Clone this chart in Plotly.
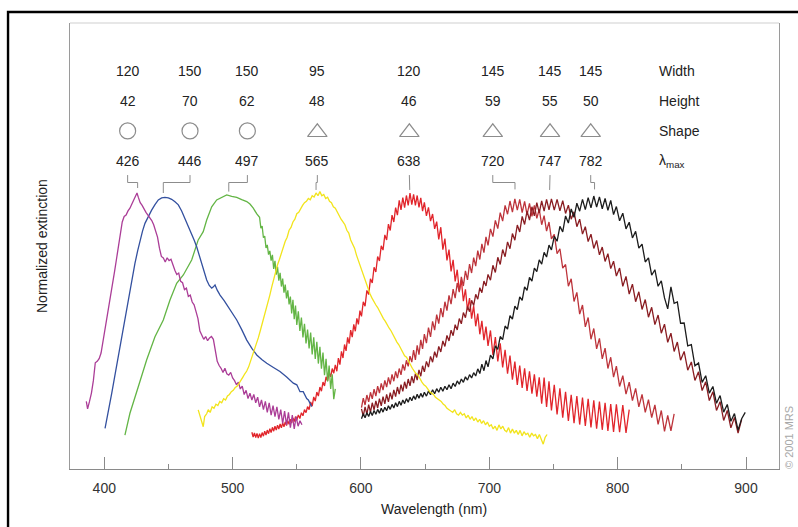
import plotly.graph_objects as go

# ---------------- data ----------------
lambda_max = [426, 446, 497, 565, 638, 720, 747, 782]
widths = [120, 150, 150, 95, 120, 145, 145, 145]
heights = [42, 70, 62, 48, 46, 59, 55, 50]
shape_kind = ["circle", "circle", "circle", "triangle", "triangle", "triangle", "triangle", "triangle"]
label_x = [418.2, 466.8, 511.5, 566.0, 637.7, 702.7, 747.3, 779.0]
leader_end = [1.018, 1.0, 1.005, 1.011, 1.011, 1.013, 1.011, 1.013]
row_names = ["Width", "Height", "Shape", "λ<sub>max</sub>"]

# magenta (426 nm)
wl_426 = [386.0, 387.0, 388.5, 390.0, 391.5, 393.0, 394.5, 396.0, 397.5, 399.0, 400.5, 402.0, 403.5, 405.0,
          406.5, 408.0, 409.5, 411.0, 412.5, 414.0, 415.5, 417.0, 418.5, 420.0, 421.5, 423.0, 424.5, 425.5,
          426.5, 428.0, 429.5, 431.0, 432.5, 434.0, 435.5, 437.0, 438.5, 440.0, 441.5, 443.0, 444.5, 446.0,
          447.5, 449.0, 450.5, 452.0, 453.5, 455.0, 456.5, 458.0, 459.5, 461.0, 462.5, 464.0, 465.5, 467.0,
          468.5, 470.0, 471.5, 473.0, 474.5, 476.0, 477.5, 479.0, 480.5, 482.0, 483.5, 485.0, 486.5, 488.0,
          489.5, 491.0, 492.5, 494.0, 495.5, 497.0, 498.5, 500.0, 501.5, 503.0, 504.5, 506.0, 507.5, 509.0,
          510.5, 512.0, 513.5, 515.0, 516.5, 518.0, 519.5, 521.0, 522.5, 524.0, 525.5, 527.0, 528.5, 530.0,
          531.5, 533.0, 534.5, 536.0, 537.5, 539.0, 540.5, 542.0, 543.5, 545.0, 546.5, 548.0, 549.5, 551.0,
          552.5, 554.0]
ext_426 = [0.245, 0.218, 0.245, 0.275, 0.32, 0.385, 0.39, 0.40, 0.42, 0.46, 0.515, 0.55, 0.59, 0.63,
           0.665, 0.715, 0.76, 0.81, 0.85, 0.895, 0.915, 0.92, 0.935, 0.945, 0.96, 0.975, 0.99, 1.0,
           0.985, 0.965, 0.955, 0.94, 0.93, 0.92, 0.91, 0.90, 0.885, 0.86, 0.84, 0.80, 0.77, 0.765,
           0.75, 0.765, 0.755, 0.76, 0.735, 0.72, 0.705, 0.71, 0.68, 0.675, 0.65, 0.655, 0.625, 0.63,
           0.605, 0.595, 0.57, 0.545, 0.50, 0.485, 0.47, 0.48, 0.465, 0.475, 0.48, 0.47, 0.43, 0.39,
           0.375, 0.365, 0.35, 0.365, 0.345, 0.34, 0.35, 0.33, 0.32, 0.305, 0.315, 0.29, 0.30, 0.27,
           0.285, 0.255, 0.275, 0.25, 0.27, 0.24, 0.26, 0.225, 0.25, 0.215, 0.245, 0.205, 0.24, 0.195,
           0.23, 0.19, 0.225, 0.18, 0.215, 0.165, 0.21, 0.16, 0.205, 0.15, 0.195, 0.145, 0.19, 0.155,
           0.175, 0.16]

# blue (446 nm)
wl_446 = [400.6, 403.0, 405.8, 408.5, 410.9, 413.5, 416.1, 418.0, 420.0, 422.0, 423.9, 426.0, 427.8, 429.8,
          431.7, 434.3, 436.9, 439.5, 442.1, 444.7, 447.3, 449.9, 452.5, 455.1, 457.7, 460.3, 462.9, 465.5,
          468.1, 470.0, 472.0, 474.0, 475.9, 478.0, 479.8, 481.8, 483.7, 485.0, 486.3, 488.0, 490.2, 493.4,
          496.6, 499.9, 503.2, 507.1, 511.0, 515.0, 518.8, 522.7, 526.6, 531.8, 536.9, 542.1, 547.3, 550.0,
          552.5, 555.0, 557.7, 559.0, 560.3, 561.6]
ext_446 = [0.147, 0.20, 0.274, 0.345, 0.407, 0.475, 0.540, 0.60, 0.649, 0.70, 0.745, 0.79, 0.830, 0.862,
           0.890, 0.917, 0.938, 0.958, 0.975, 0.982, 0.984, 0.982, 0.977, 0.968, 0.957, 0.935, 0.908, 0.882,
           0.854, 0.83, 0.805, 0.775, 0.745, 0.715, 0.685, 0.665, 0.655, 0.66, 0.667, 0.648, 0.630, 0.610,
           0.588, 0.565, 0.540, 0.505, 0.467, 0.437, 0.413, 0.397, 0.383, 0.368, 0.353, 0.333, 0.311, 0.305,
           0.28, 0.28, 0.255, 0.25, 0.24, 0.226]

# green (497 nm), smooth part + fringe part
wl_497_smooth = [416.1, 420.0, 426.5, 433.0, 439.5, 446.0, 451.2, 456.4, 461.6, 468.1, 473.2, 477.1, 479.8,
                 483.7, 487.6, 491.5, 495.4, 499.3, 503.2, 507.1, 511.0, 513.5, 516.1, 518.7]
ext_497_smooth = [0.123, 0.202, 0.298, 0.395, 0.479, 0.540, 0.612, 0.673, 0.703, 0.757, 0.830, 0.860, 0.902,
                  0.950, 0.975, 0.985, 0.993, 0.988, 0.984, 0.976, 0.969, 0.960, 0.945, 0.925]

# common fringe sampling wavelengths (interference fringe extrema)
fringe_wl = [515, 516, 517, 518, 519, 520, 521, 522, 523, 524, 525, 526, 527, 528, 529, 530, 531, 532, 533,
             534, 535, 536, 537, 538, 539, 540, 541, 542, 543, 544, 545, 546, 547, 548, 549, 550,
             551.2, 552.4, 553.6, 554.8, 556.0, 557.2, 558.4, 559.6, 560.8, 562.0, 563.2, 564.4, 565.6, 566.8,
             568.0, 569.2, 570.4, 571.6, 572.8, 574.0, 575.2, 576.4, 577.6, 578.8, 580.0, 581.2, 582.4, 583.6,
             584.8, 586.0, 587.2, 588.4, 589.6, 590.8, 592.0, 593.2, 594.4, 595.6, 596.8, 598.0, 599.2,
             600.4, 601.8, 603.2, 604.6, 606.0, 607.4, 608.8, 610.2, 611.6, 613.0, 614.4, 615.8, 617.2, 618.6,
             620.0, 621.4, 622.8, 624.2, 625.6, 627.0, 628.4, 629.8, 631.2, 632.6, 634.0, 635.4, 636.8, 638.2,
             639.6, 641.0, 642.4, 643.8, 645.2, 646.6, 648.0, 649.4,
             651.0, 652.6, 654.2, 655.8, 657.4, 659.0, 660.6, 662.2, 663.8, 665.4, 667.0, 668.6, 670.2, 671.8,
             673.4, 675.0, 676.6, 678.2, 679.8, 681.4, 683.0, 684.6, 686.2, 687.8, 689.4, 691.0, 692.6, 694.2,
             695.8, 697.4, 699.0,
             700.9, 702.8, 704.7, 706.6, 708.5, 710.4, 712.3, 714.2, 716.1, 718.0, 719.9, 721.8, 723.7, 725.6,
             727.5, 729.4, 731.3, 733.2, 735.1, 737.0, 738.9, 740.8, 742.7, 744.6, 746.5, 748.4,
             750.6, 752.8, 755.0, 757.2, 759.4, 761.6, 763.8, 766.0, 768.2, 770.4, 772.6, 774.8, 777.0, 779.2,
             781.4, 783.6, 785.8, 788.0, 790.2, 792.4, 794.6, 796.8, 799.0,
             801.5, 804.0, 806.5, 809.0, 811.5, 814.0, 816.5, 819.0, 821.5, 824.0, 826.5, 829.0, 831.5, 834.0,
             836.5, 839.0, 841.5, 844.0, 846.5, 849.0,
             851.8, 854.6, 857.4, 860.2, 863.0, 865.8, 868.6, 871.4, 874.2, 877.0, 879.8, 882.6, 885.4, 888.2,
             891.0, 893.8, 896.6, 899.4]

ext_497_fringe = [0.912, 0.873, 0.880, 0.838, 0.844, 0.801, 0.812, 0.777, 0.790, 0.755, 0.776, 0.725, 0.754,
                  0.704, 0.733, 0.682, 0.711, 0.661, 0.690, 0.639, 0.668, 0.618, 0.647, 0.596, 0.625, 0.564,
                  0.613, 0.543, 0.592, 0.522, 0.571, 0.500, 0.549, 0.477, 0.526, 0.455, 0.505, 0.437, 0.494,
                  0.415, 0.477, 0.399, 0.461, 0.382, 0.443, 0.363, 0.422, 0.340, 0.399, 0.317, 0.375, 0.290,
                  0.343, 0.253, 0.290]
start_497_fringe = 6

# yellow (565 nm)
wl_565 = [473.2, 474.5, 476.0, 477.1, 478.2, 479.8, 481.0, 482.5, 484.0, 485.5, 487.0, 488.5, 490.0, 491.5,
          493.0, 494.5, 496.0, 497.5, 499.0, 500.5, 502.0, 503.5, 505.0, 506.5, 508.0, 509.5, 511.0, 512.5,
          514.0, 515.5, 517.0, 518.5, 520.0, 521.5, 523.0, 524.5, 526.0, 527.5, 529.0, 530.5, 532.0, 533.5,
          535.0, 536.5, 538.0, 539.5, 541.0, 542.5, 544.0, 545.5, 547.0, 548.5, 550.0, 551.5, 553.0, 554.5,
          556.0, 557.5, 559.0, 560.5, 562.0, 563.5, 565.0, 566.5, 568.0, 569.5, 571.0, 572.5, 574.0, 575.5,
          577.0, 578.5, 580.0, 581.5, 583.0, 584.5, 586.0, 587.5, 589.0, 590.5, 592.0, 593.5, 595.0, 596.5,
          598.0, 599.5, 601.0, 602.5, 604.0, 605.5, 607.0, 608.5, 610.0, 611.5, 613.0, 614.5, 616.0, 617.5,
          619.0, 620.5, 622.0, 623.5, 625.0, 626.5, 628.0, 629.5, 631.0, 632.5, 634.0, 635.5, 637.0, 638.5,
          640.0, 641.5, 643.0, 644.5, 646.0, 647.5, 649.0, 650.5, 652.0, 653.5, 655.0, 656.5, 658.0, 659.5,
          661.0, 662.5, 664.0, 665.5, 667.0, 668.5, 670.0, 671.5, 673.0, 674.5, 676.0, 677.5, 679.0, 680.5,
          682.0, 683.5, 685.0, 686.5, 688.0, 689.5, 691.0, 692.5, 694.0, 695.5, 697.0, 698.5, 700.0, 701.5,
          703.0, 704.5, 706.0, 707.5, 709.0, 710.5, 712.0, 713.5, 715.0, 716.5, 718.0, 719.5, 721.0, 722.5,
          724.0, 725.5, 727.0, 728.5, 730.0, 731.5, 733.0, 734.5, 736.0, 737.5, 739.0, 740.5, 742.0, 743.5,
          745.0]
ext_565 = [0.214, 0.19, 0.17, 0.153, 0.19, 0.20, 0.215, 0.205, 0.225, 0.22, 0.235, 0.23, 0.245, 0.24,
           0.255, 0.25, 0.265, 0.27, 0.28, 0.285, 0.295, 0.30, 0.31, 0.32, 0.333, 0.345, 0.355, 0.37,
           0.39, 0.41, 0.43, 0.455, 0.475, 0.50, 0.525, 0.55, 0.575, 0.60, 0.63, 0.66, 0.69, 0.72,
           0.74, 0.76, 0.785, 0.80, 0.825, 0.84, 0.865, 0.875, 0.895, 0.905, 0.925, 0.93, 0.945, 0.955,
           0.965, 0.97, 0.98, 0.975, 0.99, 0.985, 1.0, 0.99, 1.005, 0.99, 0.995, 0.98, 0.985, 0.97,
           0.965, 0.95, 0.945, 0.93, 0.92, 0.905, 0.895, 0.885, 0.865, 0.855, 0.83, 0.815, 0.80, 0.775,
           0.755, 0.735, 0.71, 0.69, 0.67, 0.65, 0.635, 0.62, 0.605, 0.595, 0.585, 0.57, 0.56, 0.545,
           0.535, 0.52, 0.51, 0.50, 0.485, 0.475, 0.46, 0.45, 0.435, 0.425, 0.41, 0.405, 0.39, 0.38,
           0.365, 0.355, 0.345, 0.34, 0.325, 0.315, 0.305, 0.30, 0.29, 0.28, 0.275, 0.27, 0.26, 0.255,
           0.25, 0.245, 0.235, 0.23, 0.22, 0.215, 0.21, 0.205, 0.215, 0.20, 0.195, 0.205, 0.195, 0.20,
           0.185, 0.195, 0.18, 0.19, 0.175, 0.185, 0.17, 0.18, 0.165, 0.175, 0.16, 0.17, 0.155, 0.16,
           0.145, 0.155, 0.14, 0.16, 0.145, 0.155, 0.14, 0.135, 0.15, 0.13, 0.145, 0.13, 0.14, 0.125,
           0.14, 0.12, 0.135, 0.125, 0.13, 0.115, 0.13, 0.12, 0.125, 0.11, 0.125, 0.105, 0.09, 0.115,
           0.125]

# red (638 nm), starts at fringe_wl[0]
ext_638 = [0.133, 0.116, 0.131, 0.114, 0.129, 0.112, 0.128, 0.114, 0.132, 0.119, 0.137, 0.123, 0.141, 0.128,
           0.146, 0.132, 0.151, 0.137, 0.155, 0.141, 0.159, 0.145, 0.163, 0.149, 0.167, 0.153, 0.171, 0.157,
           0.175, 0.162, 0.180, 0.167, 0.185, 0.172, 0.190, 0.177,
           0.196, 0.183, 0.204, 0.193, 0.215, 0.204, 0.226, 0.215, 0.243, 0.228, 0.261, 0.246, 0.279, 0.264,
           0.297, 0.282, 0.315, 0.301, 0.334, 0.319, 0.351, 0.334, 0.364, 0.347, 0.377, 0.354, 0.402, 0.378,
           0.426, 0.402, 0.451, 0.428, 0.477, 0.454, 0.503, 0.478, 0.524, 0.499, 0.546, 0.524, 0.574,
           0.553, 0.606, 0.590, 0.647, 0.632, 0.689, 0.674, 0.731, 0.714, 0.770, 0.754, 0.809, 0.793, 0.848,
           0.830, 0.887, 0.864, 0.920, 0.895, 0.947, 0.920, 0.973, 0.939, 0.983, 0.947, 0.991, 0.955, 1.00,
           0.958, 0.995, 0.955, 0.991, 0.948, 0.982, 0.934, 0.966,
           0.917, 0.948, 0.898, 0.924, 0.870, 0.896, 0.832, 0.876, 0.795, 0.835, 0.756, 0.795, 0.716, 0.758,
           0.680, 0.722, 0.644, 0.685, 0.608, 0.651, 0.576, 0.619, 0.545, 0.591, 0.517, 0.563, 0.488, 0.537,
           0.467, 0.516, 0.446,
           0.502, 0.413, 0.478, 0.390, 0.455, 0.368, 0.432, 0.345, 0.411, 0.324, 0.389, 0.305, 0.375, 0.294,
           0.365, 0.283, 0.354, 0.273, 0.343, 0.262, 0.332, 0.237, 0.331, 0.225, 0.318, 0.212,
           0.305, 0.198, 0.292, 0.186, 0.280, 0.174, 0.269, 0.166, 0.264, 0.161, 0.259, 0.156, 0.254, 0.151,
           0.249, 0.146, 0.244, 0.142, 0.240, 0.138, 0.235, 0.134, 0.234,
           0.133, 0.232, 0.131, 0.215]
start_638 = 0

# 720 nm, starts at fringe_wl[77]
ext_720 = [0.222, 0.257, 0.232, 0.268, 0.243, 0.278, 0.254, 0.289, 0.264, 0.300, 0.275, 0.310, 0.286, 0.321,
           0.297, 0.332, 0.307, 0.343, 0.318, 0.354, 0.329, 0.364, 0.341, 0.379, 0.357, 0.394, 0.372, 0.409,
           0.387, 0.431, 0.395, 0.448, 0.414, 0.468, 0.435, 0.489,
           0.456, 0.512, 0.479, 0.535, 0.503, 0.559, 0.527, 0.583, 0.550, 0.606, 0.574, 0.629, 0.597, 0.652,
           0.619, 0.674, 0.641, 0.696, 0.663, 0.718, 0.685, 0.742, 0.710, 0.766, 0.735, 0.791, 0.759, 0.816,
           0.784, 0.841, 0.810,
           0.870, 0.842, 0.901, 0.871, 0.929, 0.898, 0.955, 0.923, 0.971, 0.931, 0.979, 0.938, 0.977, 0.929,
           0.970, 0.922, 0.962, 0.915, 0.955, 0.908, 0.941, 0.885, 0.918, 0.862, 0.895, 0.834,
           0.850, 0.780, 0.798, 0.728, 0.741, 0.662, 0.689, 0.607, 0.640, 0.561, 0.594, 0.515, 0.549, 0.470,
           0.509, 0.435, 0.473, 0.399, 0.438, 0.364, 0.405, 0.333, 0.373,
           0.299, 0.338, 0.271, 0.315, 0.248, 0.292, 0.225, 0.270, 0.205, 0.251, 0.186, 0.232, 0.162, 0.212,
           0.136, 0.194, 0.138, 0.200]
start_720 = 77

# 747 nm, starts at fringe_wl[77]
ext_747 = [0.218, 0.192, 0.225, 0.199, 0.233, 0.206, 0.240, 0.214, 0.247, 0.221, 0.255, 0.229, 0.262, 0.236,
           0.270, 0.243, 0.277, 0.252, 0.287, 0.262, 0.297, 0.271, 0.306, 0.281, 0.316, 0.291, 0.326, 0.301,
           0.336, 0.311, 0.346, 0.322, 0.359, 0.336, 0.374, 0.352,
           0.390, 0.369, 0.408, 0.387, 0.425, 0.404, 0.444, 0.424, 0.464, 0.444, 0.484, 0.464, 0.503, 0.483,
           0.523, 0.504, 0.545, 0.526, 0.567, 0.548, 0.589, 0.570, 0.611, 0.592, 0.633, 0.615, 0.657, 0.639,
           0.681, 0.663, 0.705,
           0.684, 0.738, 0.712, 0.767, 0.741, 0.795, 0.769, 0.823, 0.798, 0.853, 0.829, 0.884, 0.859, 0.915,
           0.886, 0.934, 0.902, 0.950, 0.917, 0.965, 0.928, 0.971, 0.934, 0.977, 0.939, 0.979,
           0.938, 0.977, 0.935, 0.972, 0.926, 0.956, 0.905, 0.932, 0.878, 0.905, 0.851, 0.878, 0.824, 0.851,
           0.799, 0.828, 0.776, 0.804, 0.752, 0.780, 0.726, 0.753, 0.699,
           0.728, 0.662, 0.698, 0.634, 0.670, 0.606, 0.642, 0.578, 0.614, 0.550, 0.586, 0.523, 0.558, 0.492,
           0.525, 0.459, 0.492, 0.426, 0.460, 0.394,
           0.426, 0.358, 0.388, 0.321, 0.352, 0.284, 0.316, 0.248, 0.280, 0.212, 0.244, 0.176, 0.212, 0.149,
           0.187, 0.130, 0.180]
start_747 = 77

# 782 nm, starts at fringe_wl[77]
ext_782 = [0.182, 0.200, 0.186, 0.204, 0.190, 0.208, 0.194, 0.212, 0.198, 0.216, 0.202, 0.220, 0.206, 0.224,
           0.211, 0.229, 0.216, 0.234, 0.221, 0.240, 0.226, 0.245, 0.231, 0.250, 0.237, 0.255, 0.242, 0.260,
           0.247, 0.265, 0.252, 0.271, 0.256, 0.274, 0.260, 0.278,
           0.264, 0.283, 0.269, 0.287, 0.273, 0.291, 0.278, 0.296, 0.282, 0.300, 0.287, 0.305, 0.291, 0.311,
           0.299, 0.319, 0.307, 0.326, 0.314, 0.334, 0.322, 0.342, 0.330, 0.349, 0.337, 0.363, 0.346, 0.380,
           0.356, 0.393, 0.370,
           0.413, 0.399, 0.446, 0.433, 0.480, 0.469, 0.518, 0.507, 0.556, 0.543, 0.590, 0.577, 0.624, 0.611,
           0.660, 0.647, 0.694, 0.681, 0.728, 0.715, 0.758, 0.742, 0.785, 0.768, 0.811, 0.794,
           0.843, 0.825, 0.879, 0.859, 0.917, 0.891, 0.942, 0.912, 0.963, 0.934, 0.977, 0.940, 0.983, 0.946,
           0.989, 0.949, 0.986, 0.943, 0.980, 0.937, 0.973, 0.922, 0.951,
           0.899, 0.927, 0.870, 0.894, 0.837, 0.861, 0.800, 0.815, 0.750, 0.765, 0.702, 0.722, 0.662, 0.682,
           0.620, 0.580, 0.660, 0.600, 0.605, 0.528,
           0.529, 0.446, 0.451, 0.374, 0.384, 0.314, 0.338, 0.275, 0.299, 0.238, 0.266, 0.206, 0.234, 0.173,
           0.201, 0.141, 0.182, 0.205]
start_782 = 77

colors = {
    426: "#ab3d97", 446: "#33509f", 497: "#63b545", 565: "#f2e41c",
    638: "#e1252b", 720: "#bd343b", 747: "#8a1d22", 782: "#1c1c1c",
}

FONT = "Liberation Sans, Arial, Helvetica, sans-serif"


def fringe_x(start, vals):
    return fringe_wl[start:start + len(vals)]


series = [
    (638, fringe_x(start_638, ext_638), ext_638),
    (720, fringe_x(start_720, ext_720), ext_720),
    (747, fringe_x(start_747, ext_747), ext_747),
    (782, fringe_x(start_782, ext_782), ext_782),
    (497, wl_497_smooth + fringe_x(start_497_fringe, ext_497_fringe), ext_497_smooth + ext_497_fringe),
    (446, wl_446, ext_446),
    (426, wl_426, ext_426),
    (565, wl_565, ext_565),
]

fig = go.Figure()
for key, xs, ys in series:
    fig.add_trace(go.Scatter(x=xs, y=ys, mode="lines", line=dict(color=colors[key], width=1.3),
                             hoverinfo="skip", showlegend=False))

# leader lines from the λmax labels to the peaks
lx, ly = [], []
for lab, pk, end in zip(label_x, lambda_max, leader_end):
    lx += [lab, lab, pk, pk, None]
    ly += [1.065, 1.038, 1.038, end, None]
fig.add_trace(go.Scatter(x=lx, y=ly, mode="lines", line=dict(color="#8c8c8c", width=1),
                         hoverinfo="skip", showlegend=False))

# shape symbols
SHAPE_Y = 1.225
cx = [x for x, s in zip(label_x, shape_kind) if s == "circle"]
tx = [x for x, s in zip(label_x, shape_kind) if s == "triangle"]
fig.add_trace(go.Scatter(x=cx, y=[SHAPE_Y] * len(cx), mode="markers",
                         marker=dict(symbol="circle-open", size=16, color="#8c8c8c", line=dict(width=1.2)),
                         hoverinfo="skip", showlegend=False))
fig.add_trace(go.Scatter(x=tx, y=[SHAPE_Y - 0.005] * len(tx), mode="markers",
                         marker=dict(symbol="triangle-up-open", size=17, color="#8c8c8c", line=dict(width=1.2)),
                         hoverinfo="skip", showlegend=False))

annotations = []
row_y = {"w": 1.442, "h": 1.333, "s": 1.225, "l": 1.116}
for x, w, h, lm in zip(label_x, widths, heights, lambda_max):
    for txt, yy in ((w, row_y["w"]), (h, row_y["h"]), (lm, row_y["l"])):
        annotations.append(dict(x=x, y=yy, xref="x", yref="y", text=str(txt), showarrow=False,
                                font=dict(family=FONT, size=14, color="#222222"),
                                xanchor="center", yanchor="middle"))
for name, yy in zip(row_names, [row_y["w"], row_y["h"], row_y["s"], row_y["l"]]):
    annotations.append(dict(x=830.7, y=yy, xref="x", yref="y", text=name, showarrow=False,
                            font=dict(family=FONT, size=14, color="#222222"),
                            xanchor="left", yanchor="middle"))

annotations.append(dict(x=0.5127, y=-0.0897, xref="paper", yref="paper", text="Wavelength (nm)",
                        showarrow=False, font=dict(family=FONT, size=14, color="#222222"),
                        xanchor="center", yanchor="middle"))
annotations.append(dict(x=-0.0395, y=0.5, xref="paper", yref="paper", text="Normalized extinction",
                        showarrow=False, textangle=-90, font=dict(family=FONT, size=14, color="#222222"),
                        xanchor="center", yanchor="middle"))
annotations.append(dict(x=1.0141, y=0.0717, xref="paper", yref="paper", text="© 2001 MRS",
                        showarrow=False, textangle=-90, font=dict(family=FONT, size=11, color="#a8a8a8"),
                        xanchor="center", yanchor="middle"))

shapes = [
    # outer black frame (top and left edges)
    dict(type="path", xref="paper", yref="paper",
         path="M -0.0874,-0.2 L -0.0874,1.0247 L 1.08,1.0247",
         line=dict(color="#000000", width=2.4)),
    # top edge of plot box
    dict(type="line", xref="paper", yref="paper", x0=0, x1=1, y0=1, y1=1,
         line=dict(color="#cfcfcf", width=1.2)),
]

fig.update_layout(
    width=798, height=527,
    margin=dict(l=70, r=19, t=23, b=58),
    paper_bgcolor="white", plot_bgcolor="white",
    annotations=annotations, shapes=shapes,
    xaxis=dict(range=[373.3, 925.7], tickmode="array", tickvals=[400, 500, 600, 700, 800, 900],
               ticks="inside", ticklen=12, tickwidth=1, tickcolor="#8a8a8a",
               minor=dict(tickvals=[450, 550, 650, 750, 850], ticks="inside", ticklen=5,
                          tickcolor="#8a8a8a", tickwidth=1),
               showline=True, linecolor="#8a8a8a", linewidth=1.3, showgrid=False, zeroline=False,
               tickfont=dict(family=FONT, size=14, color="#333333"), ticklabelstandoff=6),
    yaxis=dict(range=[0, 1.6159], showticklabels=False, ticks="", showline=True, mirror=True,
               linecolor="#9a9a9a", linewidth=1.2, showgrid=False, zeroline=False),
    hovermode=False,
)

fig.write_html("out.html", config={"displayModeBar": False},
               post_script="document.body.style.margin='0px';document.body.style.padding='0px';")
